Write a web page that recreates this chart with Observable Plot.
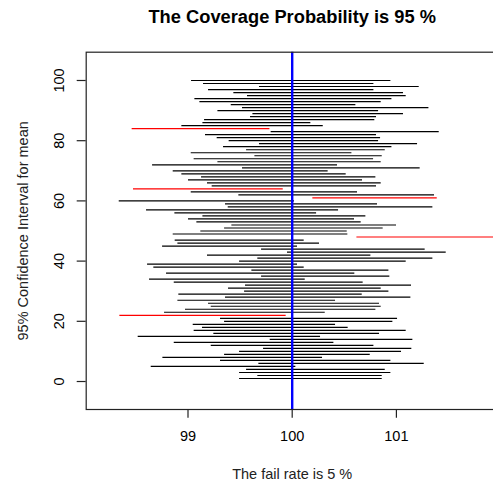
<!DOCTYPE html>
<html>
<head>
<meta charset="utf-8">
<script src="https://cdn.jsdelivr.net/npm/d3@7"></script>
<script src="https://cdn.jsdelivr.net/npm/@observablehq/plot@0.6"></script>
<style>
  html, body { margin: 0; padding: 0; background: #fff; overflow: hidden; }
  #chart { width: 500px; }
</style>
</head>
<body>
<div id="chart"></div>
<script>
// Sample index (y position) 1..100
const sampleIndex = d3.range(1, 101);
// Lower bounds of the 100 confidence intervals (sample 1 .. 100)
const lowerBounds = [
  99.495, 99.670, 99.495, 99.562, 98.647, 99.680, 99.312, 98.759, 99.351, 99.495,
  99.725, 99.223, 98.868, 99.789, 98.522, 99.248, 99.059, 99.139, 99.050, 99.351,
  99.312, 98.346, 98.775, 98.976, 99.223, 99.197, 98.903, 99.360, 98.912, 99.543,
  99.389, 99.552, 98.868, 98.631, 99.706, 98.794, 99.613, 98.672, 98.612, 99.495,
  99.670, 99.187, 99.955, 99.706, 98.756, 98.903, 98.877, 100.621, 98.858, 99.123,
  99.351, 99.421, 99.085, 99.005, 99.143, 98.874, 98.602, 99.386, 99.360, 98.340,
  100.198, 99.488, 99.031, 98.477, 99.232, 99.187, 99.005, 99.130, 98.941, 98.858,
  99.523, 98.660, 99.287, 99.059, 99.642, 99.031, 99.562, 99.341, 99.686, 99.395,
  99.280, 99.168, 99.798, 98.464, 98.941, 99.143, 99.159, 99.600, 99.623, 99.287,
  99.523, 99.415, 99.114, 99.066, 99.571, 99.440, 99.197, 99.686, 99.149, 99.034
];
// Upper bounds of the 100 confidence intervals (sample 1 .. 100)
const upperBounds = [
  100.864, 100.864, 100.947, 100.893, 100.035, 101.267, 100.947, 100.291, 100.749, 101.049,
  101.148, 100.784, 100.400, 101.158, 100.272, 100.838, 101.094, 100.537, 100.416, 100.966,
  101.011, 99.942, 100.317, 100.803, 100.854, 100.838, 100.416, 101.139, 100.672, 100.928,
  100.854, 101.145, 100.681, 100.125, 100.937, 100.601, 100.928, 100.115, 100.051, 101.094,
  101.350, 100.755, 101.478, 101.276, 100.051, 100.262, 100.115, 102.050, 100.534, 100.528,
  100.873, 101.001, 100.662, 100.598, 100.707, 100.234, 100.445, 101.350, 100.819, 100.022,
  101.392, 101.366, 100.627, 99.914, 100.809, 100.854, 100.675, 100.803, 100.518, 100.345,
  101.228, 100.435, 100.854, 100.781, 100.864, 100.573, 100.893, 100.957, 101.203, 100.829,
  100.848, 100.809, 101.411, 99.786, 100.298, 100.179, 100.793, 100.809, 101.068, 100.829,
  101.312, 100.611, 100.854, 100.957, 101.094, 101.068, 100.784, 101.219, 100.784, 100.947
];
const trueMean = 100;
const xTicks = [99, 100, 101];
const yTicks = [0, 20, 40, 60, 80, 100];
const titleText = "The Coverage Probability is 95 %";
const xLabel = "The fail rate is 5 %";
const yLabel = "95% Confidence Interval for mean";

const rows = sampleIndex.map((i, k) => ({i, lo: lowerBounds[k], hi: upperBounds[k]}));
const hits = rows.filter(d => d.lo <= trueMean && d.hi >= trueMean);
const misses = rows.filter(d => d.lo > trueMean || d.hi < trueMean);

const chart = Plot.plot({
  width: 500,
  height: 483,
  marginLeft: 85.7,
  marginRight: 2.3,
  marginTop: 51.7,
  marginBottom: 74,
  x: {domain: [98.023, 101.977]},
  y: {domain: [-9.3, 109.4]},
  style: {
    fontFamily: "'Liberation Sans', Arial, sans-serif",
    fontSize: "14.5px",
    color: "#000",
    background: "#fff"
  },
  marks: [
    Plot.ruleY(hits, {x1: "lo", x2: "hi", y: "i", stroke: "#000", strokeWidth: 1.2, clip: true}),
    Plot.ruleY(misses, {x1: "lo", x2: "hi", y: "i", stroke: "#ff0000", strokeWidth: 1.2, clip: true}),
    Plot.ruleX([trueMean], {stroke: "#0000ff", strokeWidth: 2.4}),
    Plot.frame({stroke: "#222", strokeWidth: 1.2}),
    Plot.axisX({ticks: xTicks, tickSize: 8.7, tickPadding: 13, tickFormat: d => String(d), label: null, stroke: "#222", strokeWidth: 1.2}),
    Plot.axisY({ticks: yTicks, tickSize: 9, tickRotate: -90, tickPadding: 13.5, tickFormat: d => String(d), label: null, stroke: "#222", strokeWidth: 1.2}),
    Plot.text([titleText], {frameAnchor: "top", dy: -29.2, lineAnchor: "bottom", fontWeight: "bold", fontSize: 18.3, fill: "#000"}),
    Plot.text([xLabel], {frameAnchor: "bottom", dy: 69, lineAnchor: "bottom", fill: "#222"}),
    Plot.text([yLabel], {frameAnchor: "left", dx: -57.7, rotate: -90, textAnchor: "middle", lineAnchor: "bottom", fill: "#222"})
  ]
});
document.getElementById("chart").appendChild(chart);
</script>
</body>
</html>
